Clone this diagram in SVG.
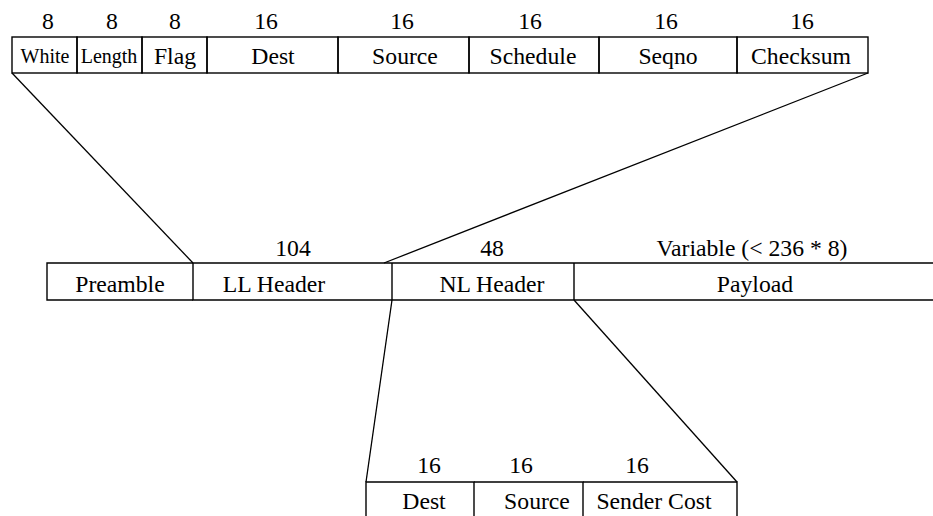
<svg xmlns="http://www.w3.org/2000/svg" width="933" height="516" viewBox="0 0 933 516">
  <style>
    .box { fill: none; stroke: #000; stroke-width: 1.4; }
    .conn { fill: none; stroke: #000; stroke-width: 1.3; }
    text { font-family: 'Liberation Serif', 'Times New Roman', serif; font-size: 23.7px; fill: #000; text-anchor: middle; }
    .small { font-size: 20px; }
  </style>
  <rect width="933" height="516" fill="#fff"/>

  <!-- Link-layer header fields -->
  <g id="ll-fields">
    <g id="f-white"><rect class="box" x="12" y="37" width="65" height="36"/><text x="48" y="29">8</text><text class="small" x="45" y="63">White</text></g>
    <g id="f-length"><rect class="box" x="77" y="37" width="65" height="36"/><text x="112" y="29">8</text><text class="small" x="109" y="63">Length</text></g>
    <g id="f-flag"><rect class="box" x="142" y="37" width="65" height="36"/><text x="175" y="29">8</text><text x="175" y="64">Flag</text></g>
    <g id="f-dest"><rect class="box" x="207" y="37" width="131" height="36"/><text x="266" y="29">16</text><text x="273" y="64">Dest</text></g>
    <g id="f-source"><rect class="box" x="338" y="37" width="131" height="36"/><text x="402" y="29">16</text><text x="405" y="64">Source</text></g>
    <g id="f-schedule"><rect class="box" x="469" y="37" width="130" height="36"/><text x="530" y="29">16</text><text x="533" y="64">Schedule</text></g>
    <g id="f-seqno"><rect class="box" x="599" y="37" width="138" height="36"/><text x="666" y="29">16</text><text x="668" y="64">Seqno</text></g>
    <g id="f-checksum"><rect class="box" x="737" y="37" width="131" height="36"/><text x="802" y="29">16</text><text x="801" y="64">Checksum</text></g>
  </g>

  <!-- Packet layout -->
  <g id="packet">
    <g id="p-preamble"><path class="box" d="M193 263 H47 V300 H193"/><text x="120" y="292">Preamble</text></g>
    <g id="p-ll"><path class="box" d="M193 263 V300 H392 M193 263 H392"/><text x="293" y="256">104</text><text x="274" y="292">LL Header</text></g>
    <g id="p-nl"><path class="box" d="M392 263 H574 M392 263 V300 H574 M574 263 V300"/><text x="492" y="256">48</text><text x="492" y="292">NL Header</text></g>
    <g id="p-payload"><path class="box" d="M574 263 H933 M574 300 H933"/><text x="752" y="256">Variable (&lt; 236 * 8)</text><text x="755" y="292">Payload</text></g>
  </g>

  <!-- Network-layer header fields -->
  <g id="nl-fields">
    <g id="n-dest"><path class="box" d="M366 516 V482 H474 V516"/><text x="429" y="473">16</text><text x="424" y="509">Dest</text></g>
    <g id="n-source"><path class="box" d="M474 482 H583 V516"/><text x="521" y="473">16</text><text x="537" y="509">Source</text></g>
    <g id="n-cost"><path class="box" d="M583 482 H737 V516"/><text x="637" y="473">16</text><text x="654" y="509">Sender Cost</text></g>
  </g>

  <!-- Expansion connectors -->
  <g id="connectors">
    <line class="conn" x1="12" y1="73" x2="193" y2="263"/>
    <line class="conn" x1="868" y1="73" x2="384" y2="263"/>
    <line class="conn" x1="392" y1="300" x2="366" y2="482"/>
    <line class="conn" x1="574" y1="300" x2="737" y2="482"/>
  </g>
</svg>
